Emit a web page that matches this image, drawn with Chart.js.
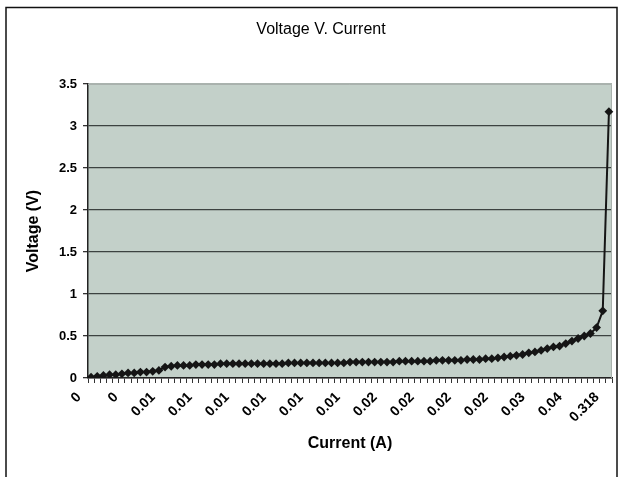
<!DOCTYPE html>
<html>
<head>
<meta charset="utf-8">
<script src="https://cdn.jsdelivr.net/npm/chart.js@4/dist/chart.umd.min.js"></script>
<style>
  html, body { margin: 0; padding: 0; background: #fff; }
  #wrap { width: 624px; height: 477px; }
</style>
</head>
<body>
<div id="wrap"><canvas id="c" width="624" height="477"></canvas></div>
<script>
// Measured voltage (V) for each reading, in order of increasing current
const voltage = [
  0.01, 0.02, 0.03, 0.04, 0.04, 0.05, 0.06, 0.06, 0.07, 0.07, 0.08, 0.09,
  0.13, 0.14, 0.15, 0.15, 0.15, 0.16, 0.16, 0.16, 0.16,
  0.17, 0.17, 0.17, 0.17, 0.17, 0.17, 0.17, 0.17, 0.17, 0.17,
  0.17, 0.18, 0.18, 0.18, 0.18, 0.18, 0.18, 0.18, 0.18, 0.18,
  0.18, 0.19, 0.19, 0.19, 0.19, 0.19, 0.19, 0.19, 0.19, 0.20,
  0.20, 0.20, 0.20, 0.20, 0.20, 0.21, 0.21, 0.21, 0.21, 0.21,
  0.22, 0.22, 0.22, 0.23, 0.23, 0.24, 0.25, 0.26, 0.27, 0.28,
  0.30, 0.31, 0.33, 0.35, 0.37, 0.38, 0.41, 0.44, 0.47, 0.50,
  0.53, 0.60, 0.80, 3.17
];

// Current (A) labels shown on the category axis, one every `labelStep` readings
const currentTickLabels = [
  '0', '0', '0.01', '0.01', '0.01', '0.01', '0.01', '0.01',
  '0.02', '0.02', '0.02', '0.02', '0.03', '0.04', '0.318'
];
const labelStep = 6;

// Reading numbers used as categories
const readings = voltage.map((_, i) => i + 1);

const chartTitle = 'Voltage V. Current';
const FONT = '"Liberation Sans", Arial, Helvetica, sans-serif';

const frameAndPlot = {
  id: 'frameAndPlot',
  beforeDraw(chart) {
    const { ctx, chartArea: a } = chart;
    ctx.save();
    ctx.fillStyle = '#ffffff';
    ctx.fillRect(0, 0, chart.width, chart.height);
    ctx.fillStyle = '#c3d0c9';
    ctx.fillRect(a.left, a.top, a.right - a.left, a.bottom - a.top);
    ctx.restore();
  },
  beforeDatasetsDraw(chart) {
    const { ctx, chartArea: a } = chart;
    ctx.save();
    ctx.strokeStyle = '#a9b1ad';
    ctx.lineWidth = 1;
    ctx.beginPath();
    ctx.moveTo(a.left, a.top + 0.5);
    ctx.lineTo(a.right - 0.5, a.top + 0.5);
    ctx.lineTo(a.right - 0.5, a.bottom);
    ctx.stroke();
    ctx.restore();
  },
  afterDraw(chart) {
    const { ctx } = chart;
    ctx.save();
    // chart title, centred over the frame
    ctx.fillStyle = '#000';
    ctx.font = 'normal 16px ' + FONT;
    ctx.textAlign = 'center';
    ctx.textBaseline = 'middle';
    ctx.fillText(chartTitle, 321, 30);
    // outer frame
    ctx.strokeStyle = '#111';
    ctx.lineWidth = 1.5;
    ctx.strokeRect(6, 7.5, 611, 490);
    ctx.restore();
  }
};

new Chart(document.getElementById('c'), {
  type: 'line',
  data: {
    labels: readings,
    datasets: [{
      data: voltage,
      borderColor: '#151515',
      backgroundColor: '#151515',
      borderWidth: 2,
      pointStyle: 'rectRot',
      pointRadius: 4.4,
      pointBorderWidth: 0,
      tension: 0,
      fill: false
    }]
  },
  options: {
    responsive: false,
    animation: false,
    devicePixelRatio: 1,
    layout: { padding: { left: 0, right: 12, top: 84, bottom: 0 } },
    plugins: {
      legend: { display: false },
      tooltip: { enabled: false },
      title: { display: false }
    },
    scales: {
      x: {
        type: 'category',
        offset: true,
        grid: {
          offset: true,
          drawOnChartArea: false,
          drawTicks: true,
          tickLength: 5,
          tickColor: '#333',
          color: '#333'
        },
        border: { display: true, color: '#222', width: 1.5 },
        ticks: {
          autoSkip: false,
          maxRotation: 45,
          minRotation: 45,
          padding: 6,
          labelOffset: -12,
          color: '#000',
          font: { family: FONT, size: 14, weight: 'bold' },
          callback: (v, i) => (i % labelStep === 0 ? currentTickLabels[i / labelStep] : '')
        },
        title: {
          display: true,
          text: 'Current (A)',
          color: '#000',
          font: { family: FONT, size: 16, weight: 'bold' },
          padding: { top: 0, bottom: 24 }
        },
        afterFit(scale) {
          scale.height = 99;
          scale.paddingLeft = 0;
          scale.paddingRight = 0;
        }
      },
      y: {
        min: 0,
        max: 3.5,
        ticks: {
          stepSize: 0.5,
          padding: 6,
          color: '#000',
          font: { family: FONT, size: 13, weight: 'bold' },
          callback: (v) => String(v)
        },
        grid: {
          drawTicks: true,
          tickLength: 5,
          tickColor: '#333',
          lineWidth: 1.3,
          color: (ctx) => (ctx.tick && ctx.tick.value === 3.5 ? '#aab3ae' : '#3c4240')
        },
        border: { display: true, color: '#222', width: 1.5 },
        title: {
          display: true,
          text: 'Voltage (V)',
          color: '#000',
          font: { family: FONT, size: 16, weight: 'bold' },
          padding: { top: 24, bottom: 0 }
        },
        afterFit(scale) { scale.width = 88; }
      }
    }
  },
  plugins: [frameAndPlot]
});
</script>
</body>
</html>
